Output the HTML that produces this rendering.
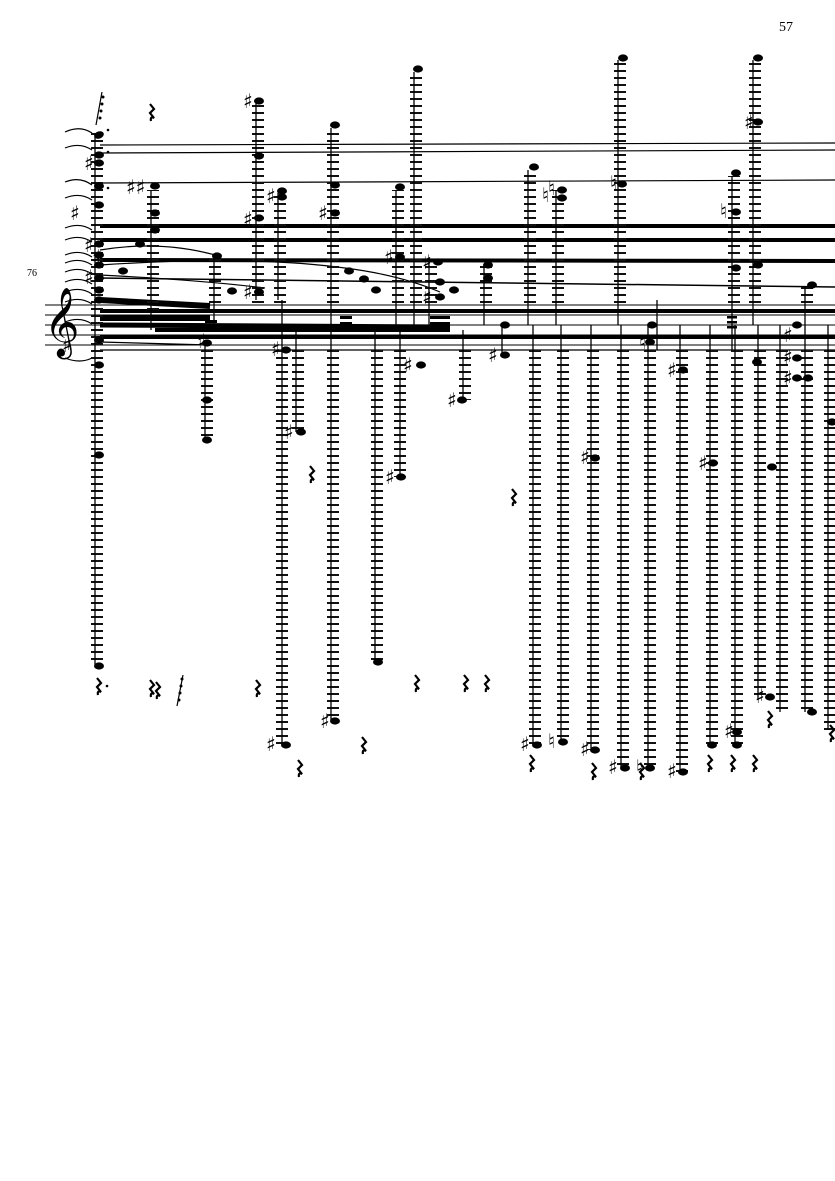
<!DOCTYPE html>
<html><head><meta charset="utf-8"><style>
html,body{margin:0;padding:0;background:#fff;}
svg{display:block;}
</style></head><body>
<svg width="835" height="1181" viewBox="0 0 835 1181" xmlns="http://www.w3.org/2000/svg">
<defs>
<pattern id="L" x="0" y="0" width="12" height="7" patternUnits="userSpaceOnUse">
<rect x="0" y="0" width="12" height="2" fill="#111"/>
</pattern>
<g id="r"><path d="M0,-8 L4,-3 L0,1 L4,6 Q0,4 1,9" stroke="#000" stroke-width="2.2" fill="none"/></g>
</defs>
<rect width="835" height="1181" fill="#fff"/>
<text x="779" y="31" font-family="Liberation Serif" font-size="14">57</text>
<text x="27" y="276" font-family="Liberation Serif" font-size="10">76</text>

<!-- staff -->
<g stroke="#000" stroke-width="1">
<line x1="45" y1="305" x2="835" y2="305"/>
<line x1="45" y1="315" x2="835" y2="315"/>
<line x1="45" y1="325" x2="835" y2="325"/>
<line x1="45" y1="335" x2="835" y2="335"/>
<line x1="45" y1="345" x2="835" y2="345"/>
</g>
<text x="44" y="342" font-size="60" font-family="DejaVu Sans">𝄞</text>
<text x="62" y="352" font-size="20" font-family="DejaVu Sans">♯</text>

<!-- long horizontal ties / beams -->
<g stroke="#000" fill="none">
<path d="M100,145 L835,143" stroke-width="1.2"/>
<path d="M100,153 L835,150" stroke-width="1.2"/>
<path d="M100,183 L835,180" stroke-width="1.2"/>
<path d="M100,226 L835,226" stroke-width="4"/>
<path d="M100,240 L835,240" stroke-width="4"/>
<path d="M100,260 L835,261" stroke-width="4"/>
<path d="M100,278 L835,287" stroke-width="1.5"/>
<path d="M100,311 L835,311" stroke-width="4"/>
<path d="M100,325 L450,327" stroke-width="5"/>
<path d="M100,337 L835,337" stroke-width="4"/>
<path d="M100,350 L835,350" stroke-width="1.2"/>
<path d="M100,300 L210,306" stroke-width="6"/>
<path d="M100,318 L210,318" stroke-width="6"/>
<path d="M155,330 L450,330" stroke-width="4"/>
<path d="M100,342 L210,345" stroke-width="1.2"/>
<path d="M100,250 Q160,240 215,255" stroke-width="1.2"/>
<path d="M100,265 Q250,255 345,268 Q400,275 440,292" stroke-width="1.2"/>
<path d="M100,275 Q200,280 265,288" stroke-width="1.2"/>
</g>

<!-- left brace arcs -->
<g stroke="#000" stroke-width="1.2" fill="none">
<path d="M65,132 Q80,125 92,133"/><path d="M65,148 Q80,142 92,150"/>
<path d="M65,182 Q80,176 92,185"/><path d="M65,198 Q80,192 92,200"/>
<path d="M65,228 Q80,222 92,230"/><path d="M65,240 Q80,234 92,242"/>
<path d="M65,255 Q80,249 92,257"/><path d="M65,263 Q80,257 92,265"/>
<path d="M65,272 Q80,266 92,274"/><path d="M65,282 Q80,276 92,284"/>
<path d="M65,292 Q80,286 92,294"/><path d="M65,302 Q80,296 92,304"/>
<path d="M65,322 Q80,316 92,324"/><path d="M65,358 Q80,364 92,358"/>
</g>

<!-- ledger columns -->
<g fill="url(#L)">
<rect x="91" y="133" width="12" height="220"/>
<rect x="91" y="350" width="12" height="315"/>
<rect x="147" y="190" width="12" height="120"/>
<rect x="201" y="345" width="12" height="95"/>
<rect x="209" y="258" width="12" height="50"/>
<rect x="252" y="103" width="12" height="200"/>
<rect x="274" y="193" width="12" height="110"/>
<rect x="276" y="350" width="12" height="395"/>
<rect x="292" y="350" width="12" height="82"/>
<rect x="327" y="128" width="12" height="178"/>
<rect x="327" y="350" width="12" height="370"/>
<rect x="371" y="350" width="12" height="312"/>
<rect x="392" y="190" width="12" height="118"/>
<rect x="394" y="350" width="12" height="127"/>
<rect x="410" y="72" width="12" height="236"/>
<rect x="425" y="262" width="12" height="46"/>
<rect x="459" y="350" width="12" height="50"/>
<rect x="480" y="265" width="12" height="43"/>
<rect x="524" y="170" width="12" height="138"/>
<rect x="529" y="350" width="12" height="395"/>
<rect x="552" y="190" width="12" height="118"/>
<rect x="557" y="350" width="12" height="392"/>
<rect x="587" y="350" width="12" height="400"/>
<rect x="614" y="60" width="12" height="248"/>
<rect x="617" y="350" width="12" height="418"/>
<rect x="644" y="350" width="12" height="418"/>
<rect x="676" y="350" width="12" height="422"/>
<rect x="706" y="350" width="12" height="395"/>
<rect x="728" y="176" width="12" height="132"/>
<rect x="731" y="350" width="12" height="395"/>
<rect x="749" y="60" width="12" height="248"/>
<rect x="754" y="350" width="12" height="350"/>
<rect x="776" y="350" width="12" height="362"/>
<rect x="801" y="286" width="12" height="22"/>
<rect x="801" y="350" width="12" height="362"/>
<rect x="824" y="350" width="12" height="380"/>
</g>

<!-- stems -->
<g stroke="#000" stroke-width="1.3">
<line x1="95" y1="133" x2="95" y2="665"/>
<line x1="151" y1="190" x2="151" y2="330"/>
<line x1="205" y1="345" x2="205" y2="440"/>
<line x1="214" y1="258" x2="214" y2="330"/>
<line x1="256" y1="103" x2="256" y2="300"/>
<line x1="278" y1="193" x2="278" y2="300"/>
<line x1="282" y1="300" x2="282" y2="745"/>
<line x1="296" y1="330" x2="296" y2="432"/>
<line x1="331" y1="128" x2="331" y2="330"/>
<line x1="331" y1="330" x2="331" y2="720"/>
<line x1="375" y1="330" x2="375" y2="662"/>
<line x1="396" y1="190" x2="396" y2="330"/>
<line x1="400" y1="330" x2="400" y2="477"/>
<line x1="414" y1="72" x2="414" y2="330"/>
<line x1="429" y1="262" x2="429" y2="330"/>
<line x1="463" y1="330" x2="463" y2="400"/>
<line x1="484" y1="265" x2="484" y2="325"/>
<line x1="502" y1="325" x2="502" y2="355"/>
<line x1="528" y1="170" x2="528" y2="325"/>
<line x1="533" y1="325" x2="533" y2="745"/>
<line x1="556" y1="190" x2="556" y2="325"/>
<line x1="561" y1="325" x2="561" y2="742"/>
<line x1="591" y1="325" x2="591" y2="750"/>
<line x1="618" y1="60" x2="618" y2="325"/>
<line x1="621" y1="325" x2="621" y2="768"/>
<line x1="648" y1="325" x2="648" y2="768"/>
<line x1="657" y1="300" x2="657" y2="350"/>
<line x1="680" y1="325" x2="680" y2="772"/>
<line x1="710" y1="325" x2="710" y2="745"/>
<line x1="732" y1="176" x2="732" y2="350"/>
<line x1="735" y1="325" x2="735" y2="745"/>
<line x1="753" y1="60" x2="753" y2="325"/>
<line x1="758" y1="325" x2="758" y2="700"/>
<line x1="780" y1="325" x2="780" y2="712"/>
<line x1="805" y1="286" x2="805" y2="712"/>
<line x1="828" y1="325" x2="828" y2="730"/>
</g>
<!-- short beams -->
<g fill="#000">
<rect x="205" y="320" width="12" height="3"/><rect x="205" y="326" width="12" height="3"/>
<rect x="340" y="316" width="12" height="3"/><rect x="340" y="322" width="12" height="3"/>
<rect x="430" y="316" width="20" height="3"/><rect x="430" y="322" width="20" height="3"/>
<rect x="727" y="316" width="10" height="2.5"/><rect x="727" y="321" width="10" height="2.5"/><rect x="727" y="326" width="10" height="2.5"/>
</g>

<!-- noteheads -->
<g fill="#000">
<ellipse cx="99" cy="135" rx="5" ry="3.6" transform="rotate(-20 99 135)"/>
<ellipse cx="99" cy="155" rx="5" ry="3.6"/><ellipse cx="99" cy="163" rx="5" ry="3.6"/>
<ellipse cx="99" cy="186" rx="5" ry="3.6"/><ellipse cx="99" cy="205" rx="5" ry="3.6"/>
<ellipse cx="99" cy="244" rx="5" ry="3.6"/><ellipse cx="99" cy="255" rx="5" ry="3.6"/>
<ellipse cx="99" cy="265" rx="5" ry="3.6"/><ellipse cx="99" cy="278" rx="5" ry="3.6"/>
<ellipse cx="99" cy="290" rx="5" ry="3.6"/><ellipse cx="99" cy="300" rx="5" ry="3.6"/>
<ellipse cx="99" cy="340" rx="5" ry="3.6"/>
<ellipse cx="99" cy="365" rx="5" ry="3.6"/><ellipse cx="99" cy="455" rx="5" ry="3.6"/>
<ellipse cx="99" cy="666" rx="5" ry="3.6"/>
<ellipse cx="155" cy="186" rx="5" ry="3.6"/><ellipse cx="155" cy="213" rx="5" ry="3.6"/>
<ellipse cx="155" cy="230" rx="5" ry="3.6"/><ellipse cx="140" cy="244" rx="5" ry="3.6"/>
<ellipse cx="123" cy="271" rx="5" ry="3.6"/>
<ellipse cx="217" cy="256" rx="5" ry="3.6"/><ellipse cx="232" cy="291" rx="5" ry="3.6"/>
<ellipse cx="207" cy="343" rx="5" ry="3.6"/><ellipse cx="207" cy="400" rx="5" ry="3.6"/><ellipse cx="207" cy="440" rx="5" ry="3.6"/>
<ellipse cx="259" cy="101" rx="5" ry="3.6"/><ellipse cx="259" cy="156" rx="5" ry="3.6"/><ellipse cx="259" cy="218" rx="5" ry="3.6"/><ellipse cx="259" cy="292" rx="5" ry="3.6"/>
<ellipse cx="282" cy="191" rx="5" ry="3.6"/><ellipse cx="282" cy="197" rx="5" ry="3.6"/>
<ellipse cx="286" cy="350" rx="5" ry="3.6"/><ellipse cx="286" cy="745" rx="5" ry="3.6"/>
<ellipse cx="301" cy="432" rx="5" ry="3.6"/>
<ellipse cx="335" cy="125" rx="5" ry="3.6"/><ellipse cx="335" cy="185" rx="5" ry="3.6"/><ellipse cx="335" cy="213" rx="5" ry="3.6"/>
<ellipse cx="335" cy="721" rx="5" ry="3.6"/>
<ellipse cx="349" cy="271" rx="5" ry="3.6"/><ellipse cx="364" cy="279" rx="5" ry="3.6"/><ellipse cx="376" cy="290" rx="5" ry="3.6"/>
<ellipse cx="378" cy="662" rx="5" ry="3.6"/>
<ellipse cx="400" cy="187" rx="5" ry="3.6"/><ellipse cx="400" cy="257" rx="5" ry="3.6"/>
<ellipse cx="401" cy="477" rx="5" ry="3.6"/><ellipse cx="421" cy="365" rx="5" ry="3.6"/>
<ellipse cx="418" cy="69" rx="5" ry="3.6"/>
<ellipse cx="438" cy="262" rx="5" ry="3.6"/><ellipse cx="440" cy="282" rx="5" ry="3.6"/><ellipse cx="440" cy="297" rx="5" ry="3.6"/><ellipse cx="454" cy="290" rx="5" ry="3.6"/>
<ellipse cx="462" cy="400" rx="5" ry="3.6"/>
<ellipse cx="488" cy="265" rx="5" ry="3.6"/><ellipse cx="488" cy="278" rx="5" ry="3.6"/>
<ellipse cx="505" cy="325" rx="5" ry="3.6"/><ellipse cx="505" cy="355" rx="5" ry="3.6"/>
<ellipse cx="534" cy="167" rx="5" ry="3.6"/><ellipse cx="537" cy="745" rx="5" ry="3.6"/>
<ellipse cx="562" cy="190" rx="5" ry="3.6"/><ellipse cx="562" cy="198" rx="5" ry="3.6"/><ellipse cx="563" cy="742" rx="5" ry="3.6"/>
<ellipse cx="595" cy="458" rx="5" ry="3.6"/><ellipse cx="595" cy="750" rx="5" ry="3.6"/>
<ellipse cx="623" cy="58" rx="5" ry="3.6"/><ellipse cx="622" cy="184" rx="5" ry="3.6"/>
<ellipse cx="625" cy="768" rx="5" ry="3.6"/><ellipse cx="650" cy="768" rx="5" ry="3.6"/>
<ellipse cx="652" cy="325" rx="5" ry="3.6"/><ellipse cx="650" cy="342" rx="5" ry="3.6"/>
<ellipse cx="683" cy="370" rx="5" ry="3.6"/><ellipse cx="683" cy="772" rx="5" ry="3.6"/>
<ellipse cx="713" cy="463" rx="5" ry="3.6"/><ellipse cx="712" cy="745" rx="5" ry="3.6"/>
<ellipse cx="736" cy="173" rx="5" ry="3.6"/><ellipse cx="736" cy="212" rx="5" ry="3.6"/><ellipse cx="736" cy="268" rx="5" ry="3.6"/>
<ellipse cx="737" cy="745" rx="5" ry="3.6"/><ellipse cx="737" cy="732" rx="5" ry="3.6"/>
<ellipse cx="758" cy="58" rx="5" ry="3.6"/><ellipse cx="758" cy="122" rx="5" ry="3.6"/><ellipse cx="758" cy="265" rx="5" ry="3.6"/>
<ellipse cx="757" cy="362" rx="5" ry="3.6"/>
<ellipse cx="772" cy="467" rx="5" ry="3.6"/><ellipse cx="770" cy="697" rx="5" ry="3.6"/>
<ellipse cx="797" cy="325" rx="5" ry="3.6"/><ellipse cx="797" cy="358" rx="5" ry="3.6"/><ellipse cx="797" cy="378" rx="5" ry="3.6"/><ellipse cx="808" cy="378" rx="5" ry="3.6"/>
<ellipse cx="812" cy="285" rx="5" ry="3.6"/><ellipse cx="812" cy="712" rx="5" ry="3.6"/>
<ellipse cx="832" cy="422" rx="5" ry="3.6"/>
</g>

<!-- accidentals -->
<g font-size="20" font-family="DejaVu Sans" fill="#000">
<text x="84" y="170">♯</text><text x="70" y="220">♯</text><text x="84" y="252">♯</text><text x="92" y="264">♯</text><text x="84" y="284">♯</text>
<text x="126" y="194">♯♯</text>
<text x="197" y="348">♯</text>
<text x="243" y="108">♯</text><text x="243" y="226">♯</text><text x="266" y="203">♯</text><text x="243" y="299">♯</text>
<text x="271" y="356">♯</text><text x="284" y="439">♯</text>
<text x="318" y="220">♯</text><text x="320" y="728">♯</text>
<text x="384" y="264">♯</text><text x="385" y="484">♯</text>
<text x="422" y="269">♯</text><text x="422" y="304">♯</text>
<text x="403" y="372">♯</text><text x="447" y="407">♯</text>
<text x="488" y="362">♯</text>
<text x="580" y="464">♯</text>
<text x="542" y="202">♮</text><text x="548" y="195">♮</text>
<text x="610" y="190">♮</text><text x="639" y="349">♮</text>
<text x="667" y="377">♯</text><text x="698" y="470">♯</text>
<text x="720" y="218">♮</text><text x="744" y="129">♯</text>
<text x="783" y="342">♯</text><text x="783" y="364">♯</text><text x="783" y="385">♯</text>
<text x="755" y="703">♯</text><text x="724" y="738">♯</text>
<text x="266" y="751">♯</text><text x="520" y="751">♯</text><text x="548" y="748">♮</text><text x="580" y="756">♯</text>
<text x="608" y="774">♯</text><text x="636" y="774">♮</text><text x="667" y="778">♯</text>
</g>

<!-- rests -->
<g>
<use href="#r" x="150" y="112"/><use href="#r" x="310" y="474"/><use href="#r" x="512" y="497"/>
<use href="#r" x="256" y="688"/><use href="#r" x="298" y="768"/><use href="#r" x="362" y="745"/>
<use href="#r" x="415" y="683"/><use href="#r" x="464" y="683"/><use href="#r" x="485" y="683"/>
<use href="#r" x="530" y="763"/><use href="#r" x="592" y="771"/><use href="#r" x="640" y="771"/>
<use href="#r" x="708" y="763"/><use href="#r" x="731" y="763"/><use href="#r" x="753" y="763"/>
<use href="#r" x="768" y="719"/><use href="#r" x="830" y="733"/><use href="#r" x="97" y="686"/>
<use href="#r" x="150" y="688"/><use href="#r" x="156" y="690"/>
</g>
<g stroke="#000" stroke-width="1.2">
<line x1="96" y1="125" x2="102" y2="92"/><line x1="177" y1="706" x2="183" y2="675"/>
</g>
<g fill="#000">
<circle cx="100" cy="118" r="1.5"/><circle cx="101" cy="111" r="1.5"/><circle cx="102" cy="104" r="1.5"/><circle cx="103" cy="97" r="1.5"/>
<circle cx="179" cy="700" r="1.5"/><circle cx="180" cy="693" r="1.5"/><circle cx="181" cy="686" r="1.5"/><circle cx="182" cy="679" r="1.5"/>
<circle cx="108" cy="130" r="1.3"/><circle cx="108" cy="152" r="1.3"/><circle cx="108" cy="188" r="1.3"/><circle cx="107" cy="686" r="1.3"/>
</g>
</svg>
</body></html>
